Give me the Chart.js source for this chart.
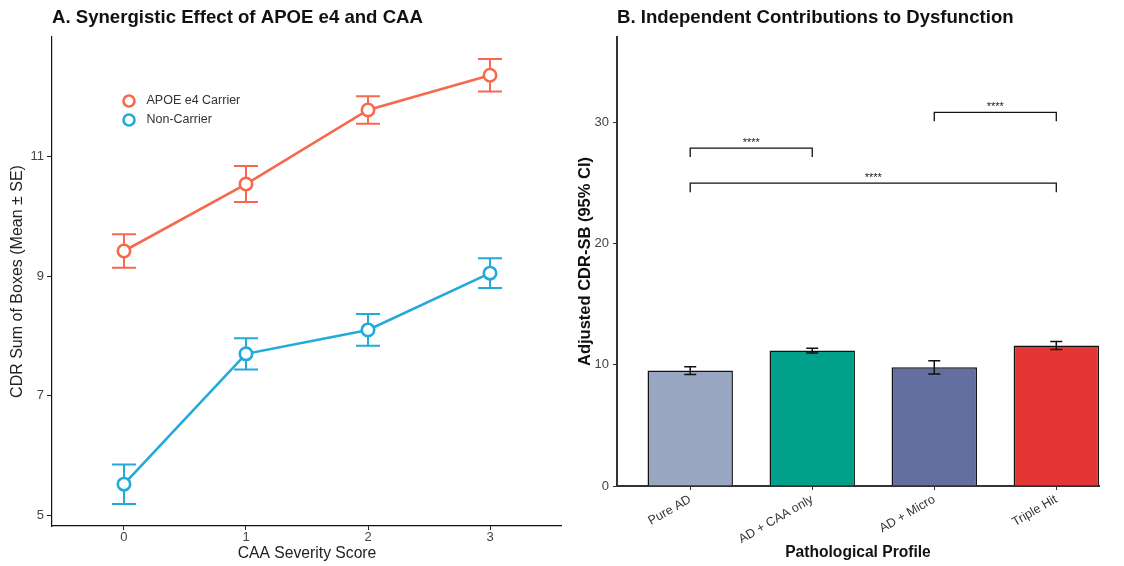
<!DOCTYPE html>
<html>
<head>
<meta charset="utf-8">
<script src="https://cdn.jsdelivr.net/npm/chart.js@4.4.0/dist/chart.umd.min.js"></script>
<style>
    body { margin: 0; background: #fff; }
    #wrap { position: relative; width: 1124px; height: 566px; }
    canvas { position: absolute; top: 0; }
</style>
</head>
<body>
<div id="wrap">
    <canvas id="lineChart" width="562" height="566" style="left:0"></canvas>
    <canvas id="barChart" width="562" height="566" style="left:562px"></canvas>
</div>
<script>
// panel A data
const caaScores = [0, 1, 2, 3];
const carrierMean = [9.42, 10.54, 11.78, 12.36];
const carrierSE = [0.28, 0.30, 0.23, 0.27];
const nonCarrierMean = [5.52, 7.70, 8.10, 9.05];
const nonCarrierSE = [0.33, 0.26, 0.265, 0.25];
const leftYTicks = [5, 7, 9, 11];

// panel B data
const profiles = ['Pure AD', 'AD + CAA only', 'AD + Micro', 'Triple Hit'];
const adjustedCdr = [9.53, 11.18, 9.80, 11.59];
const ciHalf = [0.32, 0.19, 0.55, 0.33];
const rightYTicks = [0, 10, 20, 30];
const bracketPairs = [[0, 1], [2, 3], [0, 3]];
const bracketY = [27.9, 30.85, 25.0];
const bracketLabels = ['****', '****', '****'];

const FONT = "'Liberation Sans', Arial, sans-serif";
Chart.defaults.font.family = FONT;

const orange = '#F7694C';
const blue = '#22AADA';
const barColors = ['#9AA7C2', '#00A08A', '#626F9F', '#E43634'];

function drawErrors(chart, opts) {
    const ctx = chart.ctx;
    const y = chart.scales.y;
    chart.data.datasets.forEach((ds, di) => {
        if (!ds.errors) return;
        const meta = chart.getDatasetMeta(di);
        ctx.save();
        ctx.lineWidth = opts.width;
        meta.data.forEach((el, i) => {
            const v = ds.data[i].y;
            const top = y.getPixelForValue(v + ds.errors[i]);
            const bot = y.getPixelForValue(v - ds.errors[i]);
            const x = el.x;
            ctx.strokeStyle = ds.errorColor;
            ctx.beginPath();
            ctx.moveTo(x, top); ctx.lineTo(x, bot);
            ctx.moveTo(x - opts.cap, top); ctx.lineTo(x + opts.cap, top);
            ctx.moveTo(x - opts.cap, bot); ctx.lineTo(x + opts.cap, bot);
            ctx.stroke();
        });
        ctx.restore();
    });
}

const errorBars = {
    id: 'errorBars',
    beforeDatasetsDraw(chart, args, opts) { if (!opts.after) drawErrors(chart, opts); },
    afterDatasetsDraw(chart, args, opts) { if (opts.after) drawErrors(chart, opts); }
};

const panelTitle = {
    id: 'panelTitle',
    afterDraw(chart, args, opts) {
        const ctx = chart.ctx;
        ctx.save();
        ctx.font = 'bold 18.6px ' + FONT;
        ctx.fillStyle = '#111';
        ctx.textBaseline = 'middle';
        ctx.fillText(opts.text, chart.chartArea.left, 18);
        ctx.restore();
    }
};

const insetLegend = {
    id: 'insetLegend',
    afterDraw(chart) {
        const ctx = chart.ctx;
        const x0 = chart.chartArea.left + 77;
        const y0 = chart.chartArea.top + 64;
        ctx.save();
        ctx.font = '12.5px ' + FONT;
        ctx.textBaseline = 'middle';
        chart.data.datasets.forEach((ds, i) => {
            const yy = y0 + i * 19;
            ctx.beginPath();
            ctx.arc(x0, yy, 5.5, 0, Math.PI * 2);
            ctx.fillStyle = '#fff';
            ctx.fill();
            ctx.lineWidth = 2.6;
            ctx.strokeStyle = ds.borderColor;
            ctx.stroke();
            ctx.fillStyle = '#333';
            ctx.fillText(ds.label, x0 + 17.5, yy);
        });
        ctx.restore();
    }
};

const sigBrackets = {
    id: 'sigBrackets',
    afterDatasetsDraw(chart) {
        const { ctx, scales: { x, y } } = chart;
        ctx.save();
        ctx.strokeStyle = '#111';
        ctx.fillStyle = '#222';
        ctx.lineWidth = 1.3;
        ctx.font = '11px ' + FONT;
        ctx.textAlign = 'center';
        ctx.textBaseline = 'middle';
        bracketPairs.forEach(([a, b], i) => {
            const x1 = x.getPixelForValue(a);
            const x2 = x.getPixelForValue(b);
            const yy = y.getPixelForValue(bracketY[i]);
            ctx.beginPath();
            ctx.moveTo(x1, yy + 9);
            ctx.lineTo(x1, yy);
            ctx.lineTo(x2, yy);
            ctx.lineTo(x2, yy + 9);
            ctx.stroke();
            ctx.fillText(bracketLabels[i], (x1 + x2) / 2, yy - 5);
        });
        ctx.restore();
    }
};

function noPad(s) {
    s.paddingLeft = 0;
    s.paddingRight = 0;
}

new Chart(document.getElementById('lineChart'), {
    type: 'line',
    data: {
        datasets: [{
            label: 'APOE e4 Carrier',
            data: caaScores.map((x, i) => ({ x: x, y: carrierMean[i] })),
            errors: carrierSE,
            errorColor: orange,
            borderColor: orange,
            borderWidth: 2.6,
            pointRadius: 6.2,
            pointBorderWidth: 2.6,
            pointBackgroundColor: '#fff',
            pointBorderColor: orange
        }, {
            label: 'Non-Carrier',
            data: caaScores.map((x, i) => ({ x: x, y: nonCarrierMean[i] })),
            errors: nonCarrierSE,
            errorColor: blue,
            borderColor: blue,
            borderWidth: 2.6,
            pointRadius: 6.2,
            pointBorderWidth: 2.6,
            pointBackgroundColor: '#fff',
            pointBorderColor: blue
        }]
    },
    options: {
        responsive: false,
        animation: false,
        devicePixelRatio: 1,
        layout: { autoPadding: false, padding: { top: 37, right: 0, left: 0, bottom: 0 } },
        plugins: {
            legend: { display: false },
            tooltip: { enabled: false },
            errorBars: { cap: 12, width: 2 },
            panelTitle: { text: 'A. Synergistic Effect of APOE e4 and CAA' }
        },
        scales: {
            x: {
                type: 'linear',
                min: -0.59,
                max: 3.59,
                afterBuildTicks: s => { s.ticks = caaScores.map(v => ({ value: v })); },
                afterFit: s => { s.height = 40; noPad(s); },
                grid: { display: true, drawOnChartArea: false, tickLength: 4, color: '#222' },
                border: { color: '#111', width: 1.2 },
                ticks: { padding: 0, color: '#444', font: { size: 13 } },
                title: { display: true, text: 'CAA Severity Score', color: '#222', font: { size: 15.7 }, padding: { top: 0, bottom: 3 } }
            },
            y: {
                min: 4.82,
                max: 13.0,
                afterBuildTicks: s => { s.ticks = leftYTicks.map(v => ({ value: v })); },
                afterFit: s => { s.width = 52; },
                grid: { display: true, drawOnChartArea: false, tickLength: 5, color: '#222' },
                border: { color: '#111', width: 1.2 },
                ticks: { padding: 3, color: '#444', font: { size: 13 } },
                title: { display: true, text: 'CDR Sum of Boxes (Mean ± SE)', color: '#222', font: { size: 16 }, padding: { top: 8, bottom: 0 } }
            }
        }
    },
    plugins: [errorBars, panelTitle, insetLegend]
});

new Chart(document.getElementById('barChart'), {
    type: 'bar',
    data: {
        datasets: [{
            label: 'Adjusted CDR-SB',
            data: profiles.map((p, i) => ({ x: i, y: adjustedCdr[i] })),
            errors: ciHalf,
            errorColor: '#111',
            backgroundColor: barColors,
            borderColor: '#111',
            borderWidth: 1.5,
            barPercentage: 0.7,
            categoryPercentage: 1
        }]
    },
    options: {
        responsive: false,
        animation: false,
        devicePixelRatio: 1,
        layout: { autoPadding: false, padding: { top: 37, right: 25, left: 0, bottom: 0 } },
        plugins: {
            legend: { display: false },
            tooltip: { enabled: false },
            errorBars: { cap: 6, width: 1.5, after: true },
            panelTitle: { text: 'B. Independent Contributions to Dysfunction' }
        },
        scales: {
            x: {
                type: 'linear',
                min: -0.6,
                max: 3.35,
                offset: false,
                afterBuildTicks: s => { s.ticks = profiles.map((p, i) => ({ value: i })); },
                afterFit: s => { s.height = 80; noPad(s); },
                grid: { display: true, offset: false, drawOnChartArea: false, tickLength: 4, color: '#333' },
                border: { color: '#333', width: 2 },
                ticks: {
                    callback: v => profiles[v],
                    minRotation: 30,
                    maxRotation: 30,
                    autoSkip: false,
                    padding: 2,
                    color: '#333',
                    font: { size: 12.5 }
                },
                title: { display: true, text: 'Pathological Profile', color: '#111', font: { size: 15.6, weight: 'bold' }, padding: { top: 0, bottom: 3.5 } }
            },
            y: {
                min: 0,
                max: 37.07,
                afterBuildTicks: s => { s.ticks = rightYTicks.map(v => ({ value: v })); },
                afterFit: s => { s.width = 55; },
                grid: { display: true, drawOnChartArea: false, tickLength: 4, color: '#333' },
                border: { color: '#333', width: 2 },
                ticks: { padding: 4, color: '#444', font: { size: 13 } },
                title: { display: true, text: 'Adjusted CDR-SB (95% CI)', color: '#111', font: { size: 16.5, weight: 'bold' }, padding: { top: 14, bottom: 0 } }
            }
        }
    },
    plugins: [errorBars, panelTitle, sigBrackets]
});
</script>
</body>
</html>
